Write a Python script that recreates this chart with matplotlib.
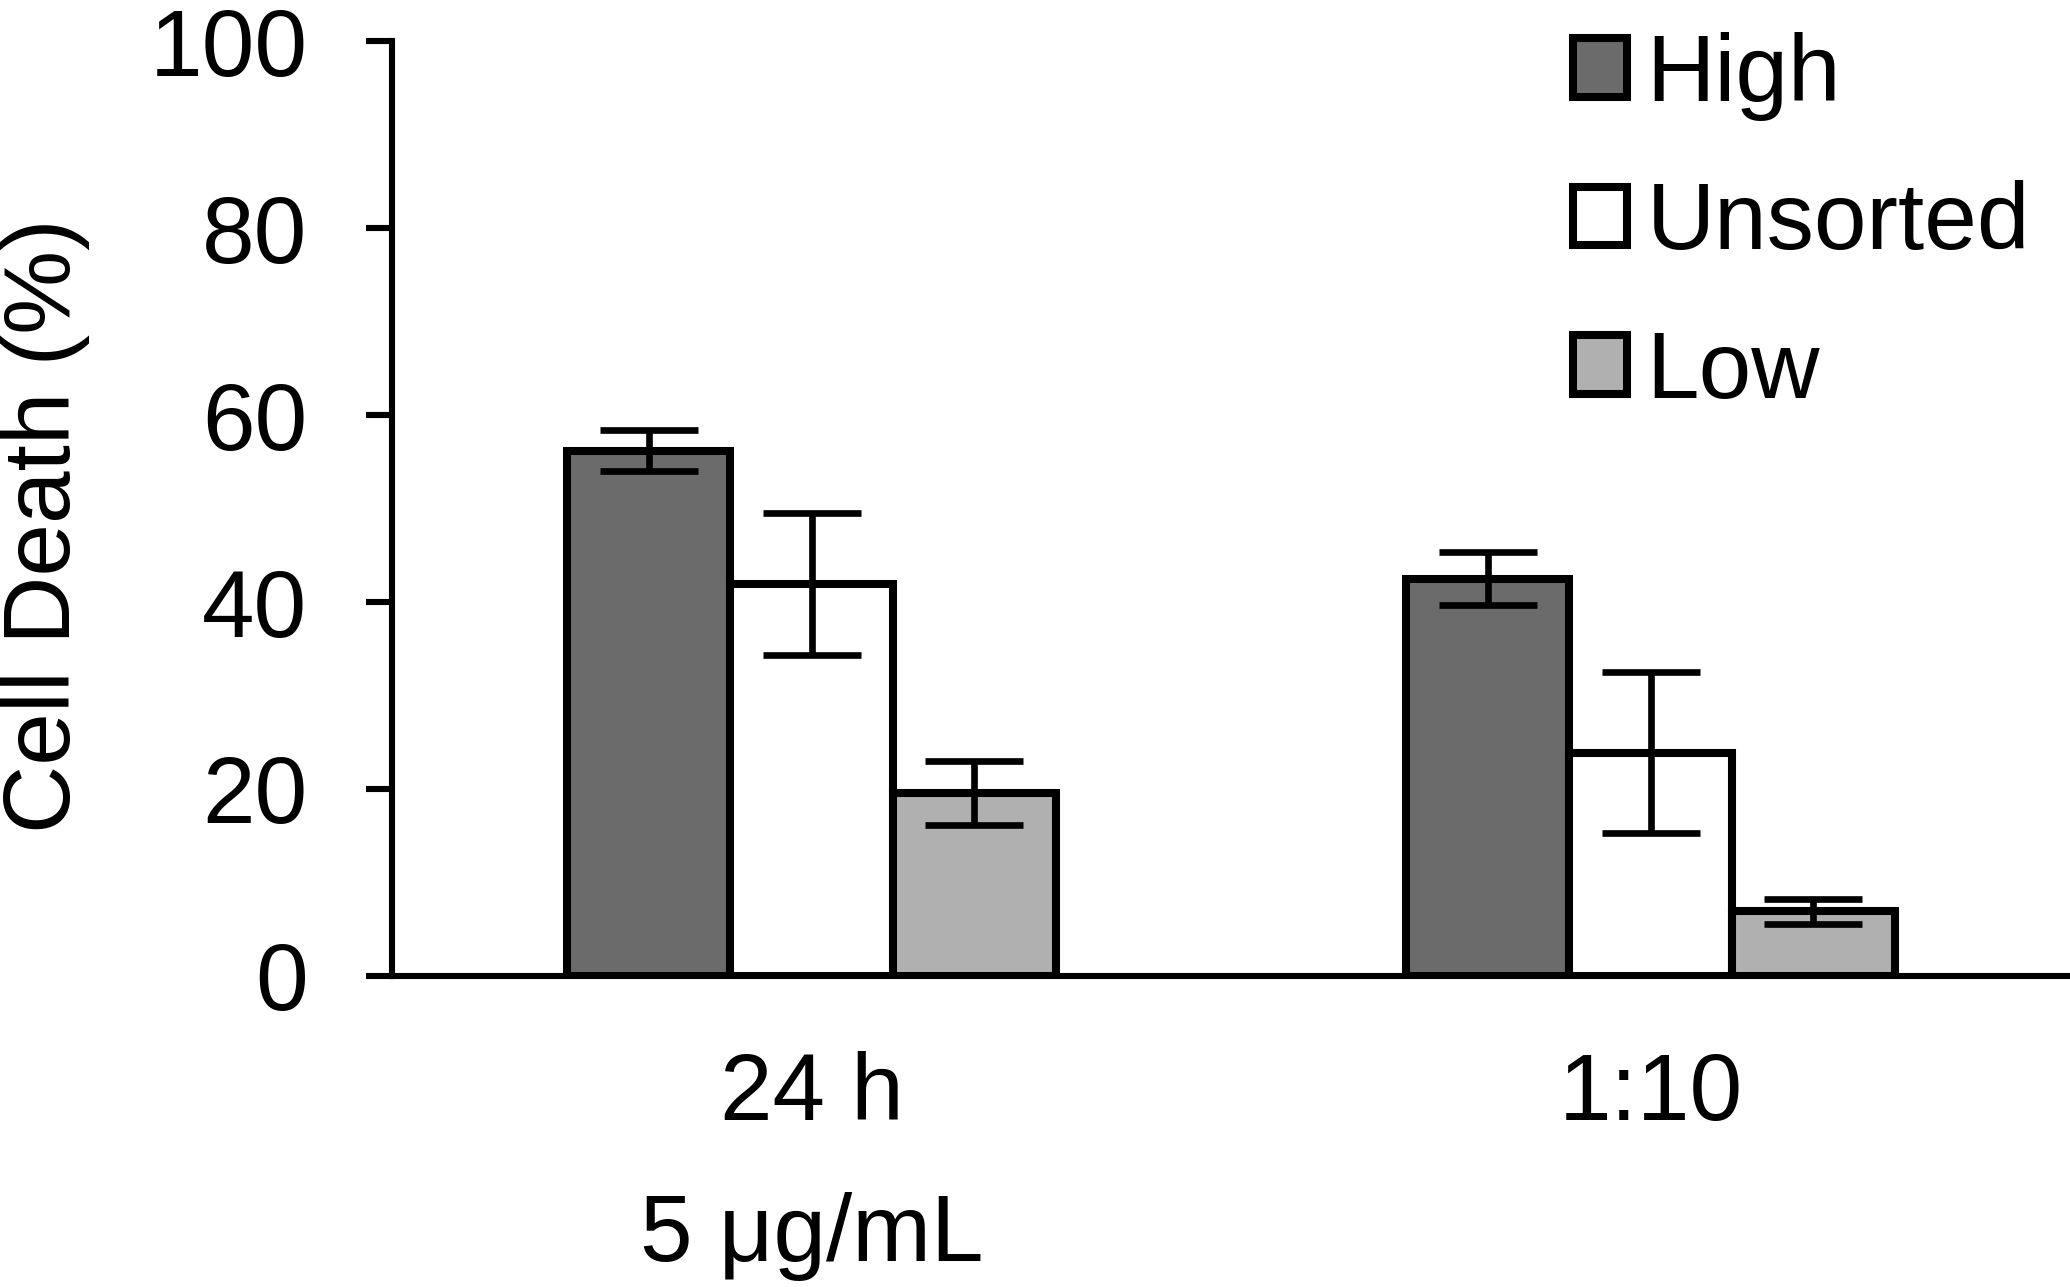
import numpy as np
import matplotlib
matplotlib.use("Agg")
import matplotlib.pyplot as plt

plt.rcParams['font.family'] = ['Liberation Sans', 'DejaVu Sans']

# data
groups = ['24 h\n5 μg/mL', '1:10']
series = ['High', 'Unsorted', 'Low']
high = [56.2, 42.5]
unsorted = [41.9, 23.9]
low = [19.6, 6.9]
high_err = [2.2, 2.8]
unsorted_err = [7.6, 8.6]
low_err = [3.4, 1.3]
colors = ['#6b6b6b', '#ffffff', '#b0b0b0']
yticks = [0, 20, 40, 60, 80, 100]

def main():
    fig = plt.figure(figsize=(10.35, 6.435), dpi=200)
    ax = fig.add_axes([0.1894, 0.2417, 0.8106, 0.7263])

    x = np.arange(len(groups))
    width = 0.194
    values = [high, unsorted, low]
    errors = [high_err, unsorted_err, low_err]

    for i, (vals, errs) in enumerate(zip(values, errors)):
        pos = x + (i - 1) * width
        ax.bar(pos, vals, width, color=colors[i], edgecolor='black',
               linewidth=2.9, label=series[i], zorder=2)
        ax.errorbar(pos, vals, yerr=errs, fmt='none', ecolor='black',
                    elinewidth=2.4, capsize=17.5, capthick=2.4, zorder=3)

    ax.set_xlim(-0.5, 1.5)
    ax.set_ylim(0, 100)
    ax.set_yticks(yticks)
    ax.set_xticks(x)
    ax.set_xticklabels(groups, fontsize=34, linespacing=1.75)
    ax.tick_params(axis='y', labelsize=34, length=9.4, width=2.2,
                   direction='out', pad=21)
    ax.tick_params(axis='x', length=0, pad=27)

    for side in ['top', 'right']:
        ax.spines[side].set_visible(False)
    for side in ['left', 'bottom']:
        ax.spines[side].set_linewidth(2.2)

    fig.text(46 / 2070, 1 - 526 / 1287, 'Cell Death (%)', rotation=90,
             ha='center', va='center', fontsize=34)

    ax.legend(loc='upper left', bbox_to_anchor=(0.7506, 0.99),
              bbox_transform=fig.transFigure, frameon=False, fontsize=34,
              handlelength=0.58, handleheight=0.58, handletextpad=0.2,
              labelspacing=0.63, borderpad=0.0, borderaxespad=0.2)

    fig.savefig('out.png', dpi=200, facecolor='white')

if __name__ == "__main__":
    main()
